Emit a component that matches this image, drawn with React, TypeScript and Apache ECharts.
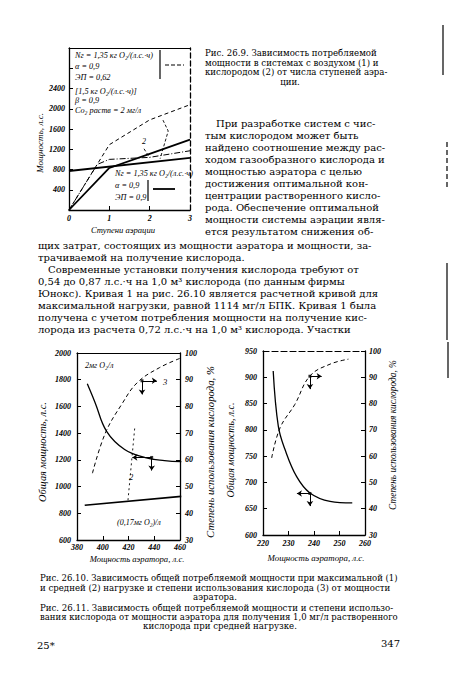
import React, { useEffect, useRef } from 'react';
import * as echarts from 'echarts';

const SERIF = "'Liberation Serif', 'DejaVu Serif', serif";
const BODY = "'DejaVu Serif', 'Liberation Serif', serif";
const INK = '#000';

// ---------- Рис. 26.9 (число ступеней аэрации) ----------
const fig9YTicks = [400, 800, 1200, 1600, 2000, 2400];
const fig9AirUpper = [[0, 0], [1, 1290], [2, 1780], [3, 2080]];
const fig9AirLower = [[0, 0], [0.7, 900], [1, 1000], [2, 1040], [3, 1170]];
const fig9OxyRising = [[0, 0], [1, 830], [2, 1110], [3, 1390]];
const fig9OxyFlat = [[0, 770], [3, 1030]];
const fig9Bracket = [[2.33, 1775], [2.46, 1560], [2.26, 1014]];
const fig9Leader = [[1.86, 1209], [2.0, 1034]];
const fig9AirNote = ['Nг = 1,35 кг О₂/(л.с.·ч)', 'α = 0,9', 'ЭП = 0,62'];
const fig9MidNote = ['[1,5 кг О₂/(л.с.·ч)]', 'β = 0,9', 'Cо₂ раств = 2 мг/л'];
const fig9OxyNote = ['Nг = 1,35 кг О₂/(л.с.·ч)', 'α = 0,9', 'ЭП = 0,9'];

// ---------- Рис. 26.10 ----------
const fig10Curve1 = [[388, 1770], [394, 1630], [403, 1413], [417, 1277], [433, 1217], [448, 1195], [461, 1187]];
const fig10Curve2 = [[386, 860], [461, 926]];
const fig10Curve3 = [[392, 55], [402, 70], [415, 81], [427, 89], [444, 94.5], [460, 98]];
const fig10Mark1 = [438, 1218];
const fig10Mark1Arrows = [[423, 1218], [438, 1120]];
const fig10Mark3 = [430.5, 89.6];
const fig10Mark3Arrows = [[442, 89.6], [430.5, 84.5]];
const fig10Leader2 = [[419.6, 898], [425, 1456]];

// ---------- Рис. 26.11 ----------
const fig11Power = [[224, 912], [226, 807], [228.6, 763], [233.2, 711], [238.4, 680], [246.3, 664], [255, 661]];
const fig11Oxygen = [[223.4, 59.3], [226.7, 70.8], [232.5, 79.7], [238.4, 90.5], [246.3, 95], [253.5, 96.9]];
const fig11Mark1 = [238.4, 679];
const fig11Mark1Arrows = [[233.3, 679], [238.4, 655]];
const fig11Mark2 = [238.4, 90.4];
const fig11Mark2Arrows = [[243, 90.4], [238.4, 85.5]];

// ---------- page text ----------
const captionTop = [
  'Рис. 26.9. Зависимость потребляемой',
  'мощности в системах с воздухом (1) и',
  'кислородом (2) от числа ступеней аэра-',
  'ции.',
];
const paraSide = [
  'При разработке систем с чис-',
  'тым кислородом может быть',
  'найдено соотношение между рас-',
  'ходом газообразного кислорода и',
  'мощностью аэратора с целью',
  'достижения оптимальной кон-',
  'центрации растворенного кисло-',
  'рода. Обеспечение оптимальной',
  'мощности системы аэрации явля-',
  'ется результатом снижения об-',
];
const paraWide = [
  'щих затрат, состоящих из мощности аэратора и мощности, за-',
  'трачиваемой на получение кислорода.',
];
const paraMain = [
  'Современные установки получения кислорода требуют от',
  '0,54 до 0,87 л.с.·ч на 1,0 м³ кислорода (по данным фирмы',
  'Юнокс). Кривая 1 на рис. 26.10 является расчетной кривой для',
  'максимальной нагрузки, равной 1114 мг/л БПК. Кривая 1 была',
  'получена с учетом потребления мощности на получение кис-',
  'лорода из расчета 0,72 л.с.·ч на 1,0 м³ кислорода. Участки',
];
const captionFig10 = [
  'Рис. 26.10. Зависимость общей потребляемой мощности при максимальной (1)',
  'и средней (2) нагрузке и степени использования кислорода (3) от мощности',
  'аэратора.',
];
const captionFig11 = [
  'Рис. 26.11. Зависимость общей потребляемой мощности и степени использо-',
  'вания кислорода от мощности аэратора для получения 1,0 мг/л растворенного',
  'кислорода при средней нагрузке.',
];

// ---------- helpers ----------
let mctx: CanvasRenderingContext2D | null = null;
function measure(text: string, size: number, family: string, style = 'normal') {
  if (!mctx) mctx = document.createElement('canvas').getContext('2d');
  if (!mctx) return text.length * size * 0.5;
  mctx.font = `${style} normal ${size}px ${family}`;
  return mctx.measureText(text).width;
}
function fitSize(text: string, width: number, family: string, style = 'normal') {
  return (20 * width) / measure(text, 20, family, style);
}
const clamp = (v: number, a: number, b: number) => Math.max(a, Math.min(b, v));

function textEl(text: string, x: number, y: number, size: number, o: any = {}) {
  return {
    type: 'text',
    x,
    y,
    rotation: o.rotation || 0,
    silent: true,
    style: {
      text,
      fontFamily: o.family || SERIF,
      fontSize: size,
      fontStyle: o.italic ? 'italic' : 'normal',
      fontWeight: o.bold ? 'bold' : 'normal',
      fill: INK,
      align: o.align || 'left',
      verticalAlign: 'middle',
    },
  };
}

type L = { t: string; x: number; y: number; right: number; mode: 'justify' | 'left' | 'center' };
function layoutBlock(ls: L[], family: string, maxSize: number, spread = 0.06) {
  const fits = ls.filter((l) => l.mode === 'justify').map((l) => fitSize(l.t, l.right - l.x, family));
  const sorted = [...fits].sort((a, b) => a - b);
  const base = Math.min(sorted[Math.floor(sorted.length / 2)], maxSize);
  return ls.map((l) => {
    let size = base;
    if (l.mode === 'justify') size = clamp(fitSize(l.t, l.right - l.x, family), base * (1 - spread), Math.min(maxSize, base * (1 + spread)));
    return textEl(l.t, l.x, l.y, size, { family, align: l.mode === 'center' ? 'center' : 'left' });
  });
}

function titleEl(text: string, x: number, y: number, length: number, vertical: boolean) {
  const size = clamp(fitSize(text, length, SERIF, 'italic'), 6, 11);
  return textEl(text, x, y, size, { italic: true, align: 'center', rotation: vertical ? Math.PI / 2 : 0 });
}

function vline(x: number, y1: number, y2: number, dash?: number[], w = 1.2) {
  return { type: 'line', silent: true, shape: { x1: x, y1, x2: x, y2 }, style: { stroke: INK, lineWidth: w, lineDash: dash || null } };
}
function hline(x1: number, x2: number, y: number, dash?: number[], w = 1.2) {
  return { type: 'line', silent: true, shape: { x1, y1: y, x2, y2: y }, style: { stroke: INK, lineWidth: w, lineDash: dash || null } };
}

const labelFont = { fontFamily: SERIF, fontStyle: 'italic', fontWeight: 'bold', fontSize: 8, color: INK } as any;
const plain = (v: number) => String(v);

function xMain(grid: number, min: number, max: number, interval: number, margin: number) {
  return {
    gridIndex: grid, type: 'value', min, max, interval, position: 'bottom',
    axisLine: { show: true, onZero: false, lineStyle: { color: INK, width: 1.3 } },
    axisTick: { show: true, inside: true, length: 4, lineStyle: { color: INK, width: 1 } },
    axisLabel: { show: true, margin, formatter: plain, ...labelFont },
    splitLine: { show: false },
  };
}
function xTop(grid: number, min: number, max: number, dashed: boolean) {
  return {
    gridIndex: grid, type: 'value', min, max, position: 'top',
    axisLine: { show: true, onZero: false, lineStyle: { color: INK, width: 1.2, type: dashed ? [6, 3] : 'solid' } },
    axisTick: { show: false }, axisLabel: { show: false }, splitLine: { show: false },
  };
}
function ySide(grid: number, min: number, max: number, interval: number, position: 'left' | 'right', o: any = {}) {
  return {
    gridIndex: grid, type: 'value', min, max, interval, position,
    axisLine: { show: true, onZero: false, lineStyle: { color: INK, width: 1.3, type: o.dashed ? [5, 3] : 'solid' } },
    axisTick: { show: o.ticks !== false, inside: true, length: 4, lineStyle: { color: INK, width: 1 } },
    axisLabel: { show: o.labels !== false, margin: o.margin ?? 5, formatter: o.formatter || plain, ...labelFont },
    splitLine: { show: false },
  };
}

function arrows(from: number[], tos: number[][]) {
  return {
    silent: true,
    symbol: ['none', 'arrow'],
    symbolSize: 5,
    label: { show: false },
    lineStyle: { color: INK, width: 1, type: 'solid' },
    emphasis: { disabled: true },
    data: tos.map((t) => [{ coord: from }, { coord: t }]),
  };
}

function lineSeries(xi: number, yi: number, data: number[][], width: number, type: any, smooth: number | boolean, extra: any = {}) {
  return {
    type: 'line', xAxisIndex: xi, yAxisIndex: yi, data, smooth, symbol: 'none', silent: true,
    lineStyle: { color: INK, width, type },
    ...extra,
  };
}
function markerSeries(xi: number, yi: number, pts: number[][]) {
  return {
    type: 'scatter', xAxisIndex: xi, yAxisIndex: yi, data: pts, symbol: 'rect', symbolSize: 3, silent: true,
    itemStyle: { color: INK },
  };
}

function buildOption() {
  const graphics: any[] = [];

  // captions / paragraphs
  graphics.push(
    ...layoutBlock(
      captionTop.map((t, i) => ({
        t, x: i === 3 ? 290 : 205, y: [53, 62.5, 72, 81.5][i], right: 394,
        mode: i === 3 ? 'center' : 'justify',
      })) as L[],
      BODY, 8.6
    )
  );
  const body: L[] = [];
  paraSide.forEach((t, i) => body.push({ t, x: i === 0 ? 216 : 205, y: 123.5 + i * 12.05, right: 398, mode: 'justify' }));
  body.push({ t: paraWide[0], x: 38, y: 245, right: 400, mode: 'justify' });
  body.push({ t: paraWide[1], x: 38, y: 257, right: 400, mode: 'left' });
  paraMain.forEach((t, i) => body.push({ t, x: i === 0 ? 48 : 38, y: 269 + i * 12, right: 400, mode: 'justify' }));
  graphics.push(...layoutBlock(body, BODY, 10));
  const capB: L[] = [];
  const capY = [578, 587.5, 597, 608, 617, 626];
  [...captionFig10, ...captionFig11].forEach((t, i) => {
    const centered = i === 2 || i === 5;
    capB.push({ t, x: centered ? (i === 2 ? 215 : 220) : 40, y: capY[i], right: 398, mode: centered ? 'center' : 'justify' });
  });
  graphics.push(...layoutBlock(capB, BODY, 8.6));
  graphics.push(textEl('25*', 37, 645, 10, { family: BODY }));
  graphics.push(textEl('347', 400, 643, 10, { family: BODY, align: 'right' }));

  // axis titles
  graphics.push(titleEl('Мощность, л.с.', 40, 143, 60, true));
  graphics.push(titleEl('Ступени аэрации', 123, 230, 64, false));
  graphics.push(titleEl('Общая мощность, л.с.', 42, 452, 100, true));
  graphics.push(titleEl('Степень использования кислорода, %', 210, 452, 172, true));
  graphics.push(titleEl('Мощность аэратора, л.с.', 137, 559, 95, false));
  graphics.push(titleEl('Общая мощность, л.с.', 230, 450, 95, true));
  graphics.push(titleEl('Степень использования кислорода, %', 393, 435, 150, true));
  graphics.push(titleEl('Мощность аэратора, л.с.', 316, 558, 97, false));

  // fig 26.9 notes
  const noteSize = clamp(fitSize(fig9AirNote[0], 78, SERIF, 'italic'), 6, 9);
  fig9AirNote.forEach((t, i) => graphics.push(textEl(t, 75, [55, 66, 77][i], noteSize, { italic: true })));
  fig9MidNote.forEach((t, i) => graphics.push(textEl(t, 75, [91, 100.5, 110][i], noteSize, { italic: true })));
  fig9OxyNote.forEach((t, i) => graphics.push(textEl(t, 115, [173, 185, 197][i], noteSize, { italic: true })));
  graphics.push(vline(160, 50, 79));
  graphics.push(hline(165, 184, 65, [4, 2]));
  graphics.push(vline(148, 180, 201));
  graphics.push(hline(153, 175, 189, undefined, 1.8));
  graphics.push(textEl('2', 142, 141, 8, { italic: true }));

  // fig 26.10 notes
  graphics.push(textEl('2мг О₂/л', 85, 365, 8, { italic: true }));
  graphics.push(textEl('3', 163, 382, 8.5, { italic: true }));
  graphics.push(textEl('2', 129, 477, 8.5, { italic: true }));
  graphics.push(textEl('(0,17мг О₂)/л', 117, 522, 8, { italic: true }));

  // page-edge rules from the scan
  graphics.push(vline(443, 25, 75));
  graphics.push(vline(447, 142, 190, [5, 3]));
  graphics.push(vline(447, 263, 340));
  graphics.push(vline(448, 342, 378));

  return {
    animation: false,
    backgroundColor: '#fff',
    grid: [
      { left: 69, top: 48, width: 121, height: 162, outerBoundsMode: 'none' },
      { left: 77, top: 353, width: 103, height: 187, outerBoundsMode: 'none' },
      { left: 263, top: 351, width: 102, height: 184, outerBoundsMode: 'none' },
    ],
    xAxis: [
      xMain(0, 0, 3, 1, 4),
      xTop(0, 0, 3, false),
      xMain(1, 380, 460, 20, 3),
      xTop(1, 380, 460, false),
      xMain(2, 220, 260, 10, 4),
      xTop(2, 220, 260, true),
    ],
    yAxis: [
      ySide(0, 0, 3200, 400, 'left', { margin: 4, formatter: (v: number) => (fig9YTicks.includes(v) ? String(v) : '') }),
      ySide(0, 0, 3200, 400, 'right', { dashed: true, labels: false, ticks: false }),
      ySide(1, 600, 2000, 200, 'left', { margin: 6 }),
      ySide(1, 30, 100, 10, 'right', { margin: 5 }),
      ySide(2, 600, 950, 50, 'left', { margin: 6 }),
      ySide(2, 30, 100, 10, 'right', { margin: 4 }),
    ],
    series: [
      // fig 26.9
      lineSeries(0, 0, fig9AirUpper, 1, [4, 3], false),
      lineSeries(0, 0, fig9AirLower, 1, [6, 2, 1, 2], false),
      lineSeries(0, 0, fig9OxyRising, 1.8, 'solid', false),
      lineSeries(0, 0, fig9OxyFlat, 1.8, 'solid', false),
      lineSeries(0, 0, fig9Bracket, 0.9, [3, 2], false),
      lineSeries(0, 0, fig9Leader, 0.9, [3, 2], false),
      // fig 26.10
      lineSeries(2, 2, fig10Curve1, 1.3, 'solid', 0.4, { markLine: arrows(fig10Mark1, fig10Mark1Arrows) }),
      lineSeries(2, 2, fig10Curve2, 1.7, 'solid', false),
      lineSeries(2, 3, fig10Curve3, 1, [4, 3], 0.4, { markLine: arrows(fig10Mark3, fig10Mark3Arrows) }),
      lineSeries(2, 2, fig10Leader2, 0.9, [2, 3], false),
      markerSeries(2, 2, [fig10Mark1]),
      markerSeries(2, 3, [fig10Mark3]),
      // fig 26.11
      lineSeries(4, 4, fig11Power, 1.3, 'solid', 0.4, { markLine: arrows(fig11Mark1, fig11Mark1Arrows) }),
      lineSeries(4, 5, fig11Oxygen, 1, [4, 3], 0.4, { markLine: arrows(fig11Mark2, fig11Mark2Arrows) }),
      markerSeries(4, 4, [fig11Mark1]),
      markerSeries(4, 5, [fig11Mark2]),
    ],
    graphic: graphics,
  };
}

export default function App() {
  const ref = useRef<HTMLDivElement>(null);
  useEffect(() => {
    if (!ref.current) return;
    const chart = echarts.init(ref.current, null, { renderer: 'svg', width: 450, height: 675 });
    chart.setOption(buildOption() as any);
    return () => chart.dispose();
  }, []);
  return (
    <div
      ref={ref}
      style={{ position: 'absolute', left: 0, top: 0, width: 450, height: 675, background: '#fff' }}
    />
  );
}
